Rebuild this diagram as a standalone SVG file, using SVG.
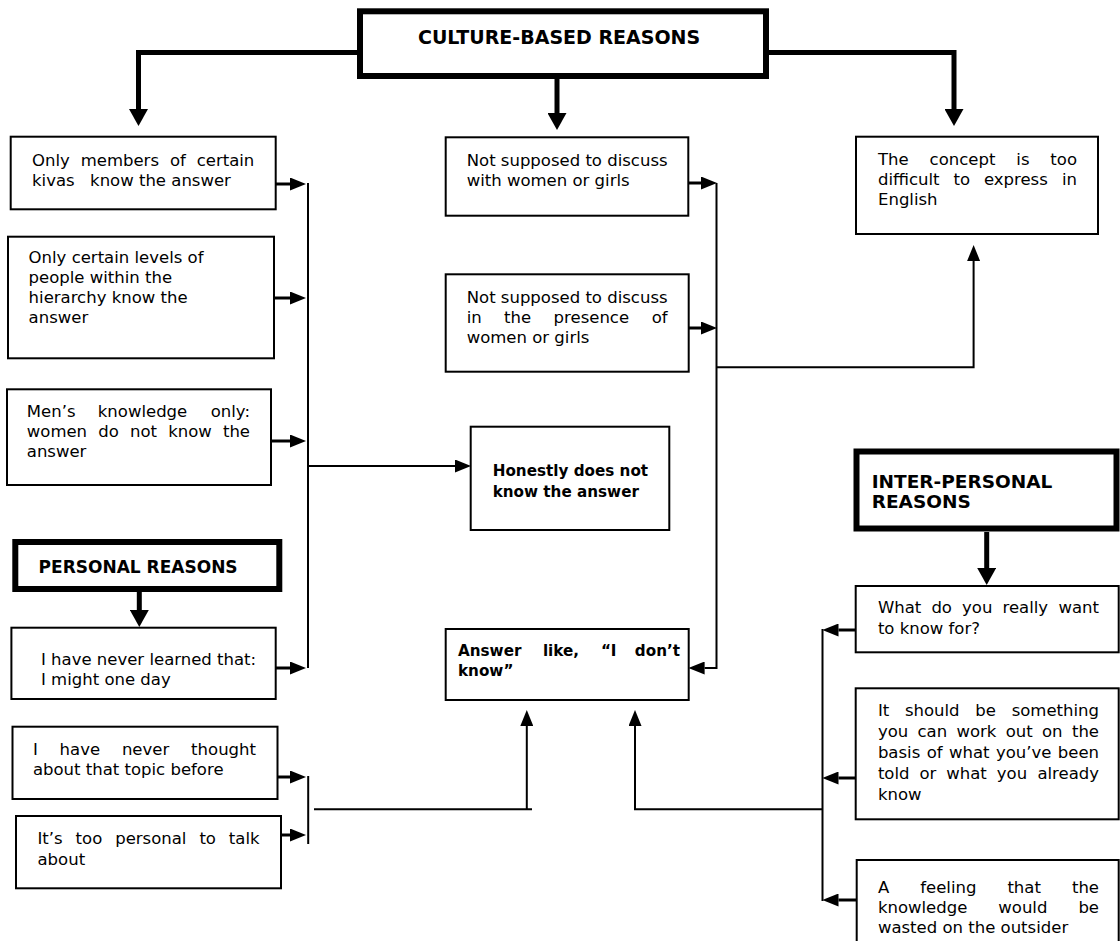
<svg xmlns="http://www.w3.org/2000/svg" width="1120" height="941" viewBox="0 0 1120 941">
  <defs>
    <style>
      .box { fill: #ffffff; stroke: #000000; stroke-width: 2; }
      .head { fill: #ffffff; stroke: #000000; stroke-width: 6; }
      .t { font-family: "DejaVu Sans", Verdana, sans-serif; font-size: 16.5px; fill: #000000; }
      .tb { font-family: "DejaVu Sans", Verdana, sans-serif; font-size: 15.2px; font-weight: bold; fill: #000000; }
      .th { font-family: "DejaVu Sans", Verdana, sans-serif; font-weight: bold; fill: #000000; }
      .e { text-anchor: end; }
      .thick { fill: none; stroke: #000000; stroke-width: 5; stroke-linejoin: miter; }
      .stem { fill: none; stroke: #000000; stroke-width: 3; }
      .line { fill: none; stroke: #000000; stroke-width: 2; }
      .big { marker-end: url(#headBig); }
      .arr { marker-end: url(#head); }
    </style>
    <marker id="head" markerUnits="userSpaceOnUse" markerWidth="16" markerHeight="13" viewBox="0 0 16 13" refX="0" refY="6.5" orient="auto">
      <path d="M0,0 L16,6.5 L0,13 Z" fill="#000000"/>
    </marker>
    <marker id="headBig" markerUnits="userSpaceOnUse" markerWidth="17" markerHeight="19" viewBox="0 0 17 19" refX="0" refY="9.5" orient="auto">
      <path d="M0,0 L17,9.5 L0,19 Z" fill="#000000"/>
    </marker>
  </defs>

  <rect width="1120" height="941" fill="#ffffff"/>

  <!-- connectors -->
  <g id="connectors">
    <!-- from the culture-based heading -->
    <path class="thick big" d="M360,52.5 H138.5 V109"/>
    <path class="thick big" d="M766,52.5 H954 V109"/>
    <path class="thick big" d="M557,79 V113"/>
    <!-- from the personal and inter-personal headings -->
    <path class="thick big" d="M139.3,592 V610"/>
    <path class="thick big" d="M986.7,532 V568"/>

    <!-- left column into the left bus -->
    <path class="stem arr" d="M276,184 H290"/>
    <path class="stem arr" d="M274,298 H290"/>
    <path class="stem arr" d="M271,441 H290"/>
    <path class="stem arr" d="M276,668 H290"/>
    <path class="line" d="M308,183 V668"/>
    <path class="line arr" d="M308,466 H455"/>

    <!-- middle column into the middle bus -->
    <path class="stem arr" d="M688,183 H701"/>
    <path class="stem arr" d="M689,328 H701"/>
    <path class="line arr" d="M716.5,183 V668 H704.6"/>
    <path class="line arr" d="M716.5,367.3 H973.6 V261"/>

    <!-- lower left pair -->
    <path class="stem arr" d="M277.5,777 H290"/>
    <path class="stem arr" d="M279,835 H290"/>
    <path class="line" d="M308.2,776 V844"/>
    <path class="line" d="M314,809.3 H532"/>
    <path class="line arr" d="M526.8,809.3 V726"/>

    <!-- right column into the right bus -->
    <path class="stem arr" d="M856,630 H838.5"/>
    <path class="stem arr" d="M856,778 H838.5"/>
    <path class="stem arr" d="M857,900 H838.5"/>
    <path class="line" d="M822.5,629 V901"/>
    <path class="line arr" d="M822.5,809.3 H635 V726"/>
  </g>

  <!-- headings -->
  <g id="culture-based">
    <rect class="head" x="360" y="11.3" width="406" height="64.7"/>
    <text class="th" x="418" y="43.5" font-size="19">CULTURE-BASED REASONS</text>
  </g>

  <g id="personal">
    <rect class="head" x="15.3" y="542" width="264" height="47" stroke-width="5.5"/>
    <text class="th" x="38.6" y="573.3" font-size="17">PERSONAL REASONS</text>
  </g>

  <g id="inter-personal">
    <rect class="head" x="856.5" y="451.5" width="260" height="77"/>
    <text class="th" x="871.7" y="488.3" font-size="18.5">INTER-PERSONAL</text>
    <text class="th" x="871.7" y="508.3" font-size="18.5">REASONS</text>
  </g>

  <!-- left column -->
  <g id="kivas">
    <rect class="box" x="10.7" y="136.7" width="265" height="72.6"/>
    <text class="t" y="166"><tspan x="32">Only</tspan><tspan x="80.7">members</tspan><tspan x="169.9">of</tspan><tspan x="254.3" text-anchor="end">certain</tspan></text>
    <text class="t" y="186"><tspan x="32">kivas</tspan><tspan x="90.1">know the answer</tspan></text>
  </g>

  <g id="hierarchy">
    <rect class="box" x="8" y="236.7" width="266" height="121.6"/>
    <text class="t" x="28.6" y="263.3">Only certain levels of</text>
    <text class="t" x="28.6" y="283.3">people within the</text>
    <text class="t" x="28.6" y="303.3">hierarchy know the</text>
    <text class="t" x="28.6" y="323.3">answer</text>
  </g>

  <g id="mens-knowledge">
    <rect class="box" x="7" y="389.3" width="264" height="95.7"/>
    <text class="t" y="416.7"><tspan x="26.8">Men’s</tspan><tspan x="97.8">knowledge</tspan><tspan x="250" text-anchor="end">only:</tspan></text>
    <text class="t" y="436.7"><tspan x="26.8">women</tspan><tspan x="98.3">do</tspan><tspan x="130">not</tspan><tspan x="168.2">know</tspan><tspan x="250" text-anchor="end">the</tspan></text>
    <text class="t" x="26.8" y="456.7">answer</text>
  </g>

  <g id="never-learned">
    <rect class="box" x="11.4" y="627.7" width="264.3" height="71.3"/>
    <text class="t" x="41" y="665">I have never learned that:</text>
    <text class="t" x="41" y="684.5">I might one day</text>
  </g>

  <g id="never-thought">
    <rect class="box" x="12.5" y="726.7" width="265" height="72.3"/>
    <text class="t" y="755"><tspan x="32.9">I</tspan><tspan x="59.6">have</tspan><tspan x="121.9">never</tspan><tspan x="256" text-anchor="end">thought</tspan></text>
    <text class="t" x="32.9" y="775">about that topic before</text>
  </g>

  <g id="too-personal">
    <rect class="box" x="16" y="816" width="265" height="72.3"/>
    <text class="t" y="844"><tspan x="37.5">It’s</tspan><tspan x="75.6">too</tspan><tspan x="115.2">personal</tspan><tspan x="199.4">to</tspan><tspan x="259.6" text-anchor="end">talk</tspan></text>
    <text class="t" x="37.5" y="864.5">about</text>
  </g>

  <!-- middle column -->
  <g id="not-with-women">
    <rect class="box" x="445.7" y="137.3" width="242.6" height="78.4"/>
    <text class="t" x="466.7" y="166">Not supposed to discuss</text>
    <text class="t" x="466.7" y="186">with women or girls</text>
  </g>

  <g id="not-in-presence">
    <rect class="box" x="445.7" y="274.3" width="243" height="97.4"/>
    <text class="t" x="466.7" y="303">Not supposed to discuss</text>
    <text class="t" y="323"><tspan x="466.7">in</tspan><tspan x="504.1">the</tspan><tspan x="553.6">presence</tspan><tspan x="667.6" text-anchor="end">of</tspan></text>
    <text class="t" x="466.7" y="343">women or girls</text>
  </g>

  <g id="honestly">
    <rect class="box" x="470.7" y="426.7" width="198.6" height="103.3"/>
    <text class="tb" x="492.7" y="476">Honestly does not</text>
    <text class="tb" x="492.7" y="497">know the answer</text>
  </g>

  <g id="answer-like">
    <rect class="box" x="445.7" y="629" width="243" height="71"/>
    <text class="tb" y="656"><tspan x="458">Answer</tspan><tspan x="542.9">like,</tspan><tspan x="600.9">“I</tspan><tspan x="680" text-anchor="end">don’t</tspan></text>
    <text class="tb" x="458" y="676">know”</text>
  </g>

  <!-- right column -->
  <g id="too-difficult">
    <rect class="box" x="856" y="136.7" width="242" height="97.3"/>
    <text class="t" y="165"><tspan x="878">The</tspan><tspan x="929.6">concept</tspan><tspan x="1016.3">is</tspan><tspan x="1077" text-anchor="end">too</tspan></text>
    <text class="t" y="185"><tspan x="878">difficult</tspan><tspan x="953.6">to</tspan><tspan x="983.9">express</tspan><tspan x="1077" text-anchor="end">in</tspan></text>
    <text class="t" x="878" y="205">English</text>
  </g>

  <g id="what-for">
    <rect class="box" x="855.7" y="586" width="263" height="66.3"/>
    <text class="t" y="613.3"><tspan x="877.9">What</tspan><tspan x="931.4">do</tspan><tspan x="962.1">you</tspan><tspan x="1002.5">really</tspan><tspan x="1099" text-anchor="end">want</tspan></text>
    <text class="t" x="877.9" y="633.8">to know for?</text>
  </g>

  <g id="work-it-out">
    <rect class="box" x="855.7" y="688.3" width="263" height="131"/>
    <text class="t" y="716"><tspan x="877.9">It</tspan><tspan x="904.9">should</tspan><tspan x="975.3">be</tspan><tspan x="1099" text-anchor="end">something</tspan></text>
    <text class="t" y="737"><tspan x="877.9">you</tspan><tspan x="917.5">can</tspan><tspan x="956.5">work</tspan><tspan x="1005.7">out</tspan><tspan x="1042">on</tspan><tspan x="1099" text-anchor="end">the</tspan></text>
    <text class="t" y="758"><tspan x="877.9">basis</tspan><tspan x="926.7">of</tspan><tspan x="949">what</tspan><tspan x="995.9">you’ve</tspan><tspan x="1099" text-anchor="end">been</tspan></text>
    <text class="t" y="779"><tspan x="877.9">told</tspan><tspan x="919.5">or</tspan><tspan x="946.3">what</tspan><tspan x="996.8">you</tspan><tspan x="1099" text-anchor="end">already</tspan></text>
    <text class="t" x="877.9" y="800">know</text>
  </g>

  <g id="wasted">
    <rect class="box" x="856.7" y="860" width="262" height="100"/>
    <text class="t" y="893"><tspan x="877.9">A</tspan><tspan x="920.2">feeling</tspan><tspan x="1007.4">that</tspan><tspan x="1099" text-anchor="end">the</tspan></text>
    <text class="t" y="913"><tspan x="877.9">knowledge</tspan><tspan x="998.3">would</tspan><tspan x="1099" text-anchor="end">be</tspan></text>
    <text class="t" x="877.9" y="933">wasted on the outsider</text>
  </g>
</svg>
